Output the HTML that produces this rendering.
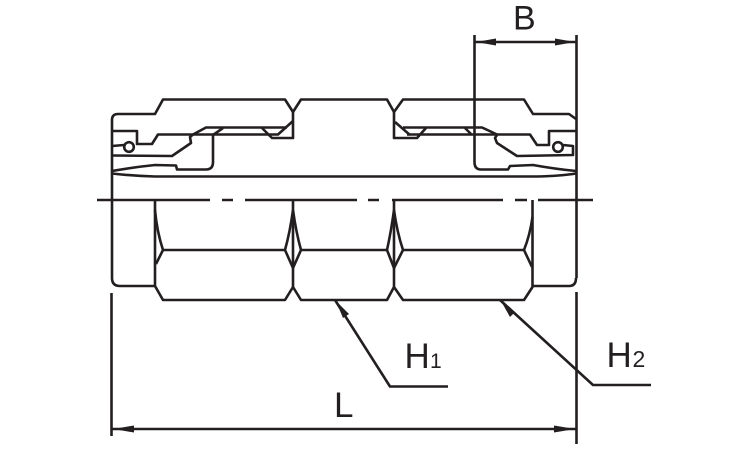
<!DOCTYPE html>
<html><head><meta charset="utf-8"><style>
html,body{margin:0;padding:0;background:#fff;width:750px;height:450px;overflow:hidden}
svg{display:block}
text{font-family:"Liberation Sans",sans-serif;fill:#231f20}
</style></head><body>
<svg width="750" height="450" viewBox="0 0 750 450" xmlns="http://www.w3.org/2000/svg">
<g fill="none" stroke="#231f20" stroke-width="2.6" stroke-linejoin="round">
<!-- top outline -->
<path d="M112 173V120Q112 114 118 114H155L163 99.5H285L293 112L301 99.5H387L394 112L403 99.5H524L533 114H569L576 119"/>
<!-- left inner -->
<path d="M293 112V138H272L262 128"/>
<path d="M112 131H137V144H152L158 134.5H278L293 121"/>
<path d="M193 134.5L206 127.5H287"/>
<path d="M213 135L223 128"/>
<path d="M112 146L124 145"/>
<circle cx="129" cy="147" r="4.8"/>
<path d="M112 155.5L172 156L191 143L190 137L193 134.5"/>
<path d="M112 171Q135 167 155 165L176 165.5L177 169.5H206Q213 169.5 213 162V135"/>
<path d="M112 173.5Q135 176 155 176.5H537Q560 176 576 173.5"/>
<!-- right inner -->
<path d="M394 112V138H417L426 128"/>
<path d="M395 122L410 135"/>
<path d="M403 127.5H482L497 134.5"/>
<path d="M407 134.5H530L537 145H549V131H576"/>
<path d="M465 128L472 135"/>
<circle cx="558" cy="147" r="4.8"/>
<path d="M563 145L573 146V155L517 156L497 143L495 138L497 135"/>
<path d="M474.5 35V162Q474.5 169.5 481 169.5H508L510 166L533 165Q555 169 576 171"/>
<!-- center line -->
<path d="M97 200H210M222 200H233M245 200H357M368 200H379M392 200H503M515 200H527M538 200H593"/>
<!-- lower -->
<path d="M155 200V286L163 300H285L293 287L301 300H387L394 287L403 300H524L532.5 287V200"/>
<path d="M293 200V287M394 200V287"/>
<path d="M155 210Q157 232 163 250L156 264"/>
<path d="M163 250H285M301 250H387M403 250H524"/>
<path d="M293 210Q290 232 285 250L293 268L301 250Q296 232 293 210"/>
<path d="M394 210Q391 232 387 250L394 268L403 250Q397 232 394 210"/>
<path d="M532.5 217Q530 235 524 250L532 267"/>
<path d="M112 172V278Q112 286 120 286H155"/>
<path d="M533 286H569Q576 286 576 278"/>
<!-- extension lines -->
<path d="M576.5 35V278M576.5 292V444"/>
<path d="M111.5 293V436"/>
<!-- dims -->
<path d="M474.5 42H576.5"/>
<path d="M111.5 429H576.5"/>
<path d="M335 300L390 386.5H448"/>
<path d="M500 300L593 385H651"/>
</g>
<g fill="#231f20" stroke="none">
<path d="M476 42L496 38.5V45.5Z"/>
<path d="M575 42L555 38.5V45.5Z"/>
<path d="M113 429L134 425.5V432.5Z"/>
<path d="M575 429L554 425.5V432.5Z"/>
<path d="M336 301L349 314L343 318Z"/>
<path d="M501 301L515 312L510 317Z"/>
</g>
<text x="513" y="29.5" font-size="34">B</text>
<text x="334" y="417" font-size="35">L</text>
<text x="404.5" y="368" font-size="35">H</text>
<text x="430" y="368" font-size="21">1</text>
<text x="606.5" y="367" font-size="35">H</text>
<text x="632.5" y="367" font-size="23">2</text>
</svg>
</body></html>
